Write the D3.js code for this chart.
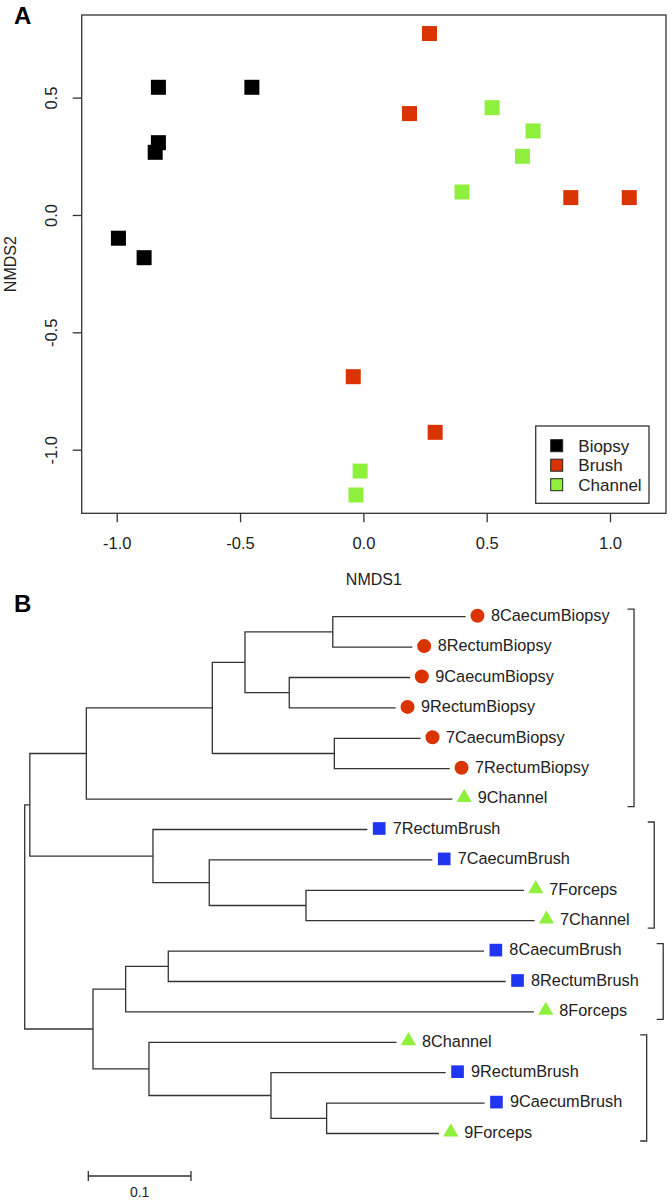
<!DOCTYPE html>
<html><head><meta charset="utf-8">
<script src="https://cdn.jsdelivr.net/npm/d3@7"></script>
<style>body{margin:0;background:#fff}svg{display:block;font-family:"Liberation Sans",Arial,Helvetica,sans-serif}</style>
</head><body><svg id="c" width="672" height="1200"></svg>
<script>
// ---------- Panel A data (NMDS ordination) ----------
const groupNames = ["Biopsy", "Brush", "Channel"];
const biopsyX  = [-0.831, -0.452, -0.831, -0.844, -0.993, -0.889];
const biopsyY  = [ 0.544,  0.544,  0.308,  0.267, -0.099, -0.182];
const brushX   = [ 0.268,  0.187,  0.841,  1.078, -0.041,  0.291];
const brushY   = [ 0.773,  0.432,  0.074,  0.074, -0.689, -0.926];
const channelX = [ 0.522,  0.688,  0.645,  0.400, -0.013, -0.030];
const channelY = [ 0.457,  0.358,  0.250,  0.098, -1.091, -1.193];
const xTicks = [-1.0, -0.5, 0.0, 0.5, 1.0];
const yTicks = [-1.0, -0.5, 0.0, 0.5];
const xDomain = [-1.142, 1.227];
const yDomain = [-1.271, 0.852];

// ---------- Panel B data (dendrogram) ----------
const leafNames = ["8CaecumBiopsy","8RectumBiopsy","9CaecumBiopsy","9RectumBiopsy","7CaecumBiopsy","7RectumBiopsy",
  "9Channel","7RectumBrush","7CaecumBrush","7Forceps","7Channel","8CaecumBrush","8RectumBrush","8Forceps",
  "8Channel","9RectumBrush","9CaecumBrush","9Forceps"];
const leafKind = ["Biopsy","Biopsy","Biopsy","Biopsy","Biopsy","Biopsy",
  "Instrument","Brush","Brush","Instrument","Instrument","Brush","Brush","Instrument",
  "Instrument","Brush","Brush","Instrument"];
const leafDepth = [0.4287,0.3768,0.3745,0.3606,0.3849,0.4132,0.4158,0.3330,0.3963,0.4855,0.4959,
  0.4466,0.4677,0.4952,0.3615,0.4093,0.4472,0.4027];
// hclust-style merges: negative = leaf (1-based), positive = earlier merge (1-based)
const mergeA = [-1, -3, 1, -5, 3, 5, -10, -9, -8, 6, -12, 11, -17, -16, -15, 12, 10];
const mergeB = [-2, -4, 2, -6, 4, -7, -11, 7, 8, 9, -13, -14, -18, 13, 14, 15, 16];
const mergeDepth = [0.300, 0.2576, 0.2145, 0.3015, 0.1827, 0.060, 0.2739, 0.1797, 0.1249, 0.005,
  0.1398, 0.0983, 0.294, 0.2398, 0.1210, 0.0665, 0.0];
const cladeStart = [0, 7, 11, 14];
const cladeEnd   = [6, 10, 13, 17];
const scaleBarValue = 0.1;

// ---------- drawing ----------
const svg = d3.select("#c");
const ink = "#333";
const colA = {Biopsy: "#000000", Brush: "#d93300", Channel: "#8ef03c"};

// Panel label A
svg.append("text").attr("x", 14).attr("y", 24).attr("font-size", 24).attr("font-weight", "bold").text("A");

const L = 81.7, R = 666, T = 15, B = 513.3;
const x = d3.scaleLinear().domain(xDomain).range([L, R]);
const y = d3.scaleLinear().domain(yDomain).range([B, T]);

const gA = svg.append("g");
const fmt = d => d.toFixed(1);
const xAxis = gA.append("g").attr("transform", `translate(0,${B})`)
  .call(d3.axisBottom(x).tickValues(xTicks).tickFormat(fmt).tickSize(9).tickPadding(18));
xAxis.select(".domain").remove();
xAxis.selectAll("line").attr("stroke", ink).attr("stroke-width", 1.3);
xAxis.selectAll("text").attr("font-size", 16.5).attr("fill", "#222").attr("font-family", null).attr("dy", "0.35em").attr("y", 30);

const yAxis = gA.append("g").attr("transform", `translate(${L},0)`)
  .call(d3.axisLeft(y).tickValues(yTicks).tickFormat(fmt).tickSize(9));
yAxis.select(".domain").remove();
yAxis.selectAll("line").attr("stroke", ink).attr("stroke-width", 1.3);
yAxis.selectAll("text").attr("font-size", 16.5).attr("fill", "#222").attr("font-family", null)
  .attr("text-anchor", "middle").attr("transform", "rotate(-90)").attr("x", 0).attr("y", -30).attr("dy", "0.35em");

gA.append("rect").attr("x", L).attr("y", T).attr("width", R - L).attr("height", B - T)
  .attr("fill", "none").attr("stroke", ink).attr("stroke-width", 1.3);

gA.append("text").attr("x", (L + R) / 2).attr("y", 579).attr("dy", "0.35em").attr("text-anchor", "middle")
  .attr("font-size", 16).attr("fill", "#222").text("NMDS1");
gA.append("text").attr("transform", `translate(10,${(T + B) / 2}) rotate(-90)`).attr("dy", "0.35em")
  .attr("text-anchor", "middle").attr("font-size", 16).attr("fill", "#222").text("NMDS2");

const pts = [];
biopsyX.forEach((v, i) => pts.push({g: "Biopsy", x: v, y: biopsyY[i]}));
brushX.forEach((v, i) => pts.push({g: "Brush", x: v, y: brushY[i]}));
channelX.forEach((v, i) => pts.push({g: "Channel", x: v, y: channelY[i]}));
const sq = 15;
gA.selectAll("rect.pt").data(pts).join("rect").attr("class", "pt")
  .attr("x", d => x(d.x) - sq / 2).attr("y", d => y(d.y) - sq / 2)
  .attr("width", sq).attr("height", sq).attr("fill", d => colA[d.g]);

// legend
const lg = gA.append("g");
const lgR = R - 17, lgB = B - 10, lgW = 113.3, lgH = 77.3;
lg.append("rect").attr("x", lgR - lgW).attr("y", lgB - lgH).attr("width", lgW).attr("height", lgH)
  .attr("fill", "#fff").attr("stroke", ink).attr("stroke-width", 1.3);
groupNames.forEach((n, i) => {
  const cy = lgB - lgH + 19.7 + i * 19.5;
  lg.append("rect").attr("x", lgR - lgW + 15).attr("y", cy - 6).attr("width", 12).attr("height", 12)
    .attr("fill", colA[n]).attr("stroke", "#222").attr("stroke-width", 1);
  lg.append("text").attr("x", lgR - lgW + 42.6).attr("y", cy).attr("dy", "0.35em")
    .attr("font-size", 17).attr("fill", "#222").text(n);
});

// Panel B
svg.append("text").attr("x", 14).attr("y", 612).attr("font-size", 24).attr("font-weight", "bold").text("B");

const tx = d3.scaleLinear().domain([0, 0.1]).range([24.7, 127.4]);
const ty = d3.scaleLinear().domain([0, leafNames.length - 1]).range([616.7, 1133.5]);
const mY = [];
const getY = id => id < 0 ? ty(-id - 1) : mY[id - 1];
const getD = id => id < 0 ? leafDepth[-id - 1] : mergeDepth[id - 1];
mergeA.forEach((a, k) => { mY[k] = (getY(a) + getY(mergeB[k])) / 2; });

const gB = svg.append("g");
let p = "";
mergeA.forEach((a, k) => {
  const b = mergeB[k], xd = tx(mergeDepth[k]);
  p += `M${xd},${getY(a)}V${getY(b)}`;
  p += `M${xd},${getY(a)}H${tx(getD(a))}`;
  p += `M${xd},${getY(b)}H${tx(getD(b))}`;
});
gB.append("path").attr("d", p).attr("fill", "none").attr("stroke", ink).attr("stroke-width", 1.3)
  .attr("stroke-linecap", "square");

const colB = {Biopsy: "#d93300", Brush: "#1f35f0", Instrument: "#8ef03c"};
const symB = {
  Biopsy: d3.symbol().type(d3.symbolCircle).size(154)(),
  Brush: d3.symbol().type(d3.symbolSquare).size(160)(),
  Instrument: d3.symbol().type(d3.symbolTriangle).size(100)()
};
const labelEnds = [];
leafNames.forEach((n, i) => {
  const tip = tx(leafDepth[i]), yy = ty(i);
  gB.append("path").attr("d", symB[leafKind[i]])
    .attr("transform", `translate(${tip + 12.5},${yy - (leafKind[i] === "Instrument" ? 1.5 : 1)})`)
    .attr("fill", colB[leafKind[i]]);
  const t = gB.append("text").attr("x", tip + 26).attr("y", yy - 1.5).attr("dy", "0.35em")
    .attr("font-size", 16.3).attr("fill", "#222").text(n);
  labelEnds[i] = tip + 26 + t.node().getComputedTextLength();
});

cladeStart.forEach((s, c) => {
  const e = cladeEnd[c];
  const bx = d3.max(labelEnds.slice(s, e + 1)) + 24.5;
  const y0 = ty(s) - 7.5, y1 = ty(e) + 7.5;
  gB.append("path").attr("d", `M${bx - 6.5},${y0}H${bx}V${y1}H${bx - 6.5}`)
    .attr("fill", "none").attr("stroke", ink).attr("stroke-width", 1.3);
});

// scale bar
const sbX = 88.3, sbY = 1176, sbLen = tx(scaleBarValue) - tx(0);
gB.append("path").attr("d", `M${sbX},${sbY}H${sbX + sbLen}M${sbX},${sbY - 5}V${sbY + 5}M${sbX + sbLen},${sbY - 5}V${sbY + 5}`)
  .attr("fill", "none").attr("stroke", ink).attr("stroke-width", 1.3);
gB.append("text").attr("x", sbX + sbLen / 2).attr("y", 1191.7).attr("dy", "0.35em").attr("text-anchor", "middle")
  .attr("font-size", 14).attr("fill", "#222").text(scaleBarValue);
</script></body></html>
